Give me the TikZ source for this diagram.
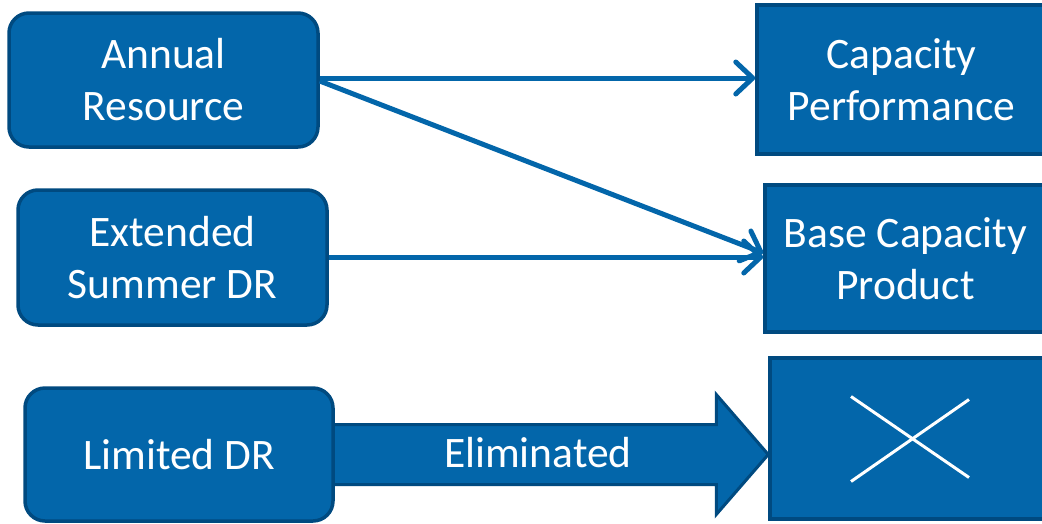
\documentclass[tikz,border=0pt]{standalone}
\usepackage{fontspec}
\setmainfont{Carlito}
\usetikzlibrary{arrows.meta,calc}
\definecolor{boxfill}{RGB}{3,102,170}
\definecolor{boxline}{RGB}{0,74,128}
\tikzset{
  base/.style={draw=boxline, fill=boxfill, line width=3.5pt, text=white, align=center,
    font=\fontsize{43.5}{52}\selectfont, inner sep=0pt},
  roundbox/.style={base, rounded corners=20pt},
  sqbox/.style={base},
  conn/.style={draw=boxfill, line width=5pt, -{Straight Barb[length=17pt,width=32pt,round]}},
  blockarrow/.style={draw=boxline, fill=boxfill, line width=3pt, line join=miter},
  cross/.style={draw=white, line width=3pt}
}
\begin{document}
\begin{tikzpicture}[x=1pt,y=-1pt]
\useasboundingbox (0,0) rectangle (1042,523);
\clip (0,0) rectangle (1042,523);
% left boxes
\node[roundbox, minimum width=309pt, minimum height=134pt] (ar) at (163.5,80) {Annual\\Resource};
\node[roundbox, minimum width=309pt, minimum height=135pt] (es) at (172.5,257.5) {Extended\\Summer DR};
% right boxes
\node[sqbox, minimum width=289pt, minimum height=149pt] (cp) at (901.5,79.5) {Capacity\\Performance};
\node[sqbox, minimum width=281pt, minimum height=147pt] (bc) at (905.5,258.5) {Base Capacity\\Product};
\node[sqbox, minimum width=280pt, minimum height=161pt] (xb) at (910,438.5) {};
% block arrow
\coordinate (tip) at (xb.west |- 179,454.5);
\draw[blockarrow] ($(tip)+(-440,-30)$) -- ($(tip)+(-52,-30)$) -- ($(tip)+(-52,-60)$) -- (tip)
  -- ($(tip)+(-52,60)$) -- ($(tip)+(-52,30)$) -- ($(tip)+(-440,30)$) -- cycle;
\node[roundbox, minimum width=308pt, minimum height=133pt] (ld) at (179,454.5) {Limited DR};
\node[text=white, font=\fontsize{43.5}{52}\selectfont, inner sep=0pt] (el) at (538,453) {Eliminated};
% cross
\draw[cross] ($(xb.center)+(-59,-42)$) -- ($(xb.center)+(59,39)$);
\draw[cross] ($(xb.center)+(59,-39)$) -- ($(xb.center)+(-59,43)$);
% connectors
\draw[conn] (ar.east |- 0,78) -- (cp.west |- 0,78);
\draw[conn] (ar.east |- 0,81) -- (bc.west |- 0,253);
\draw[conn] (es.east |- 0,257) -- (bc.west |- 0,257);
\end{tikzpicture}
\end{document}
